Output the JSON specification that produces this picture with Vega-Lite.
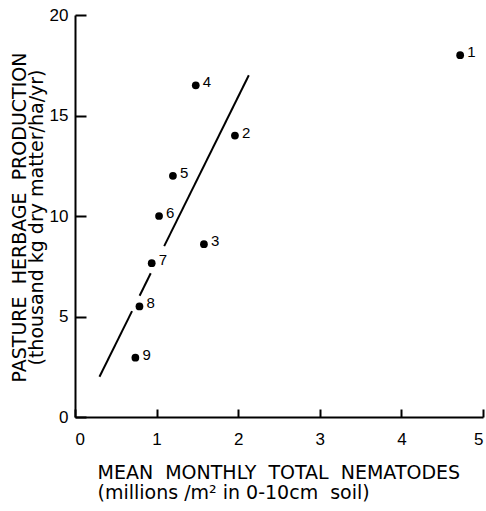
{
  "$schema": "https://vega.github.io/schema/vega-lite/v6.json",
  "width": 408,
  "height": 402,
  "autosize": "none",
  "padding": {"left": 75, "top": 15, "right": 3, "bottom": 94},
  "background": "white",
  "config": {
    "view": {"stroke": null},
    "font": "Liberation Sans",
    "axis": {
      "grid": false,
      "domainColor": "black",
      "domainWidth": 2,
      "tickColor": "black",
      "tickWidth": 2,
      "labelColor": "black",
      "labelFont": "Liberation Sans",
      "labelFontSize": 17,
      "titleColor": "black",
      "titleFont": "DejaVu Sans",
      "titleFontWeight": "normal"
    }
  },
  "datasets": {
    "points": [
      {"nematodes": 4.72, "production": 18.0, "label": "1"},
      {"nematodes": 1.96, "production": 14.0, "label": "2"},
      {"nematodes": 1.58, "production": 8.6, "label": "3"},
      {"nematodes": 1.48, "production": 16.5, "label": "4"},
      {"nematodes": 1.2, "production": 12.0, "label": "5"},
      {"nematodes": 1.03, "production": 10.0, "label": "6"},
      {"nematodes": 0.94, "production": 7.65, "label": "7"},
      {"nematodes": 0.79, "production": 5.5, "label": "8"},
      {"nematodes": 0.74, "production": 2.95, "label": "9"}
    ],
    "fit": [
      {"x": 0.3, "y": 2.0, "x2": 0.699, "y2": 5.27},
      {"x": 0.792, "y": 6.03, "x2": 0.928, "y2": 7.15},
      {"x": 1.093, "y": 8.5, "x2": 2.13, "y2": 17.0}
    ]
  },
  "layer": [
    {
      "data": {"name": "fit"},
      "mark": {"type": "rule", "color": "black", "strokeWidth": 2},
      "encoding": {
        "x": {
          "field": "x", "type": "quantitative",
          "scale": {"domain": [0, 5], "nice": false},
          "axis": {
            "values": [0, 1, 2, 3, 4, 5],
            "format": "d",
            "tickSize": -8,
            "labelPadding": 22,
            "title": ["MEAN\u00a0\u00a0MONTHLY\u00a0\u00a0TOTAL\u00a0\u00a0NEMATODES", "(millions /m\u00b2 in 0-10cm\u00a0\u00a0soil)"],
            "titleFontSize": 19,
            "titleAnchor": "start",
            "titleAlign": "left",
            "titleBaseline": "alphabetic",
            "titleX": 22,
            "titleY": 61,
            "titleLineHeight": 20
          }
        },
        "y": {
          "field": "y", "type": "quantitative",
          "scale": {"domain": [0, 20], "nice": false},
          "axis": {
            "values": [0, 5, 10, 15, 20],
            "format": "d",
            "tickSize": -11,
            "labelPadding": 18,
            "title": ["PASTURE\u00a0\u00a0HERBAGE\u00a0\u00a0PRODUCTION", "(thousand kg dry matter/ha/yr)"],
            "titleFontSize": 19,
            "titleAnchor": "middle",
            "titleBaseline": "alphabetic",
            "titleX": -50,
            "titleY": 202,
            "titleLineHeight": 17
          }
        },
        "x2": {"field": "x2"},
        "y2": {"field": "y2"}
      }
    },
    {
      "data": {"name": "points"},
      "mark": {"type": "point", "filled": true, "color": "black", "size": 60, "opacity": 1},
      "encoding": {
        "x": {"field": "nematodes", "type": "quantitative"},
        "y": {"field": "production", "type": "quantitative"}
      }
    },
    {
      "data": {"name": "points"},
      "mark": {"type": "text", "align": "left", "baseline": "middle", "dx": 7, "dy": -3, "fontSize": 15, "color": "black", "font": "Liberation Sans"},
      "encoding": {
        "x": {"field": "nematodes", "type": "quantitative"},
        "y": {"field": "production", "type": "quantitative"},
        "text": {"field": "label"}
      }
    }
  ]
}
